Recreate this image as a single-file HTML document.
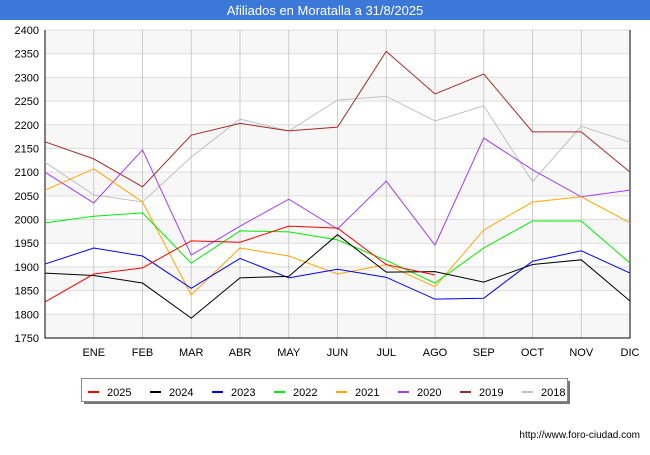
<!DOCTYPE html>
<html><head><meta charset="utf-8"><style>
body{margin:0;width:650px;height:450px;background:#fff;font-family:"Liberation Sans","DejaVu Sans",sans-serif;overflow:hidden}
</style></head><body>
<svg id="chart" width="650" height="450" xmlns="http://www.w3.org/2000/svg">
<rect x="0" y="0" width="650" height="20" fill="#3b78d8"/>
<text x="325" y="15" text-anchor="middle" fill="#fff" font-size="13">Afiliados en Moratalla a 31/8/2025</text>
<g id="grid"></g>
<g id="series"></g>
<g id="legend"></g>
<text x="640" y="438" text-anchor="end" font-size="10" fill="#000">http://www.foro-ciudad.com</text>
</svg>
<script>
const months=["","ENE","FEB","MAR","ABR","MAY","JUN","JUL","AGO","SEP","OCT","NOV","DIC"];
const yTicks=[1750,1800,1850,1900,1950,2000,2050,2100,2150,2200,2250,2300,2350,2400];
const years=["2025","2024","2023","2022","2021","2020","2019","2018"];
const colors=["#ff0000","#000000","#0000ff","#00ee00","#ffa500","#a040f0","#a52a2a","#c0c0c0"];
const s2025=[1826,1885,1898,1955,1952,1986,1982,1905,1883];
const s2024=[1887,1882,1866,1792,1877,1880,1968,1889,1890,1868,1905,1915,1828];
const s2023=[1906,1940,1923,1855,1918,1877,1895,1878,1832,1834,1912,1934,1887];
const s2022=[1993,2007,2014,1908,1976,1974,1957,1914,1866,1940,1997,1997,1908];
const s2021=[2062,2107,2037,1841,1940,1923,1885,1905,1858,1978,2037,2048,1993];
const s2020=[2100,2035,2147,1925,1986,2043,1980,2081,1946,2172,2105,2048,2062];
const s2019=[2164,2128,2069,2178,2203,2187,2195,2355,2265,2307,2185,2185,2100];
const s2018=[2121,2052,2037,2132,2212,2187,2252,2260,2208,2240,2080,2197,2163];
const allSeries=[s2025,s2024,s2023,s2022,s2021,s2020,s2019,s2018];
const NS="http://www.w3.org/2000/svg";
const L=45,R=630,T=30,B=338;
const xs=i=>L+i*(R-L)/12;
const ys=v=>B-(v-1750)/(650)*(B-T);
function mk(tag,attrs,parent){const e=document.createElementNS(NS,tag);for(const k in attrs)e.setAttribute(k,attrs[k]);parent.appendChild(e);return e;}
const grid=document.getElementById('grid');
for(let i=0;i<yTicks.length-1;i++){
  if(i%2===0){const r=mk('rect',{x:L,y:ys(yTicks[i+1]),width:R-L,height:ys(yTicks[i])-ys(yTicks[i+1]),fill:'#f7f7f7'},grid);
  
  }
}
yTicks.forEach(v=>{
  const l=mk('line',{x1:L,x2:R,y1:ys(v),y2:ys(v),stroke:'#dddddd','stroke-width':1},grid);
  
  
  const t=mk('text',{x:L-6,y:ys(v)+4,'text-anchor':'end','font-size':11,fill:'#000'},grid);t.textContent=v;
  
  
});
months.forEach((m,i)=>{
  if(i===0)return;
  const l=mk('line',{x1:xs(i),x2:xs(i),y1:T,y2:B,stroke:'#cccccc','stroke-width':1},grid);
  
  
  const t=mk('text',{x:xs(i),y:356,'text-anchor':'middle','font-size':11,fill:'#000'},grid);t.textContent=m;
  
  
});
const ax=mk('polyline',{points:`${L},${T} ${L},${B} ${R},${B} ${R},${T}`,fill:'none',stroke:'#000','stroke-width':1},grid);


const sg=document.getElementById('series');
for(let k=allSeries.length-1;k>=0;k--){
  const pts=allSeries[k].map((v,i)=>xs(i)+','+ys(v)).join(' ');
  const p=mk('polyline',{points:pts,fill:'none',stroke:colors[k],'stroke-width':1},sg);
  
  
}
const lg=document.getElementById('legend');
const sh=mk('rect',{x:84,y:381,width:486,height:23,fill:'#777'},lg);


const bx=mk('rect',{x:81.5,y:378.5,width:486,height:23,fill:'#fff',stroke:'#888'},lg);


years.forEach((y,k)=>{
  const x0=88+k*62;
  const l=mk('line',{x1:x0,x2:x0+11,y1:392,y2:392,stroke:colors[k],'stroke-width':2},lg);
  
  
  const t=mk('text',{x:x0+19,y:396,'font-size':11,fill:'#000'},lg);t.textContent=y;
  
  
});
</script>
</body></html>
